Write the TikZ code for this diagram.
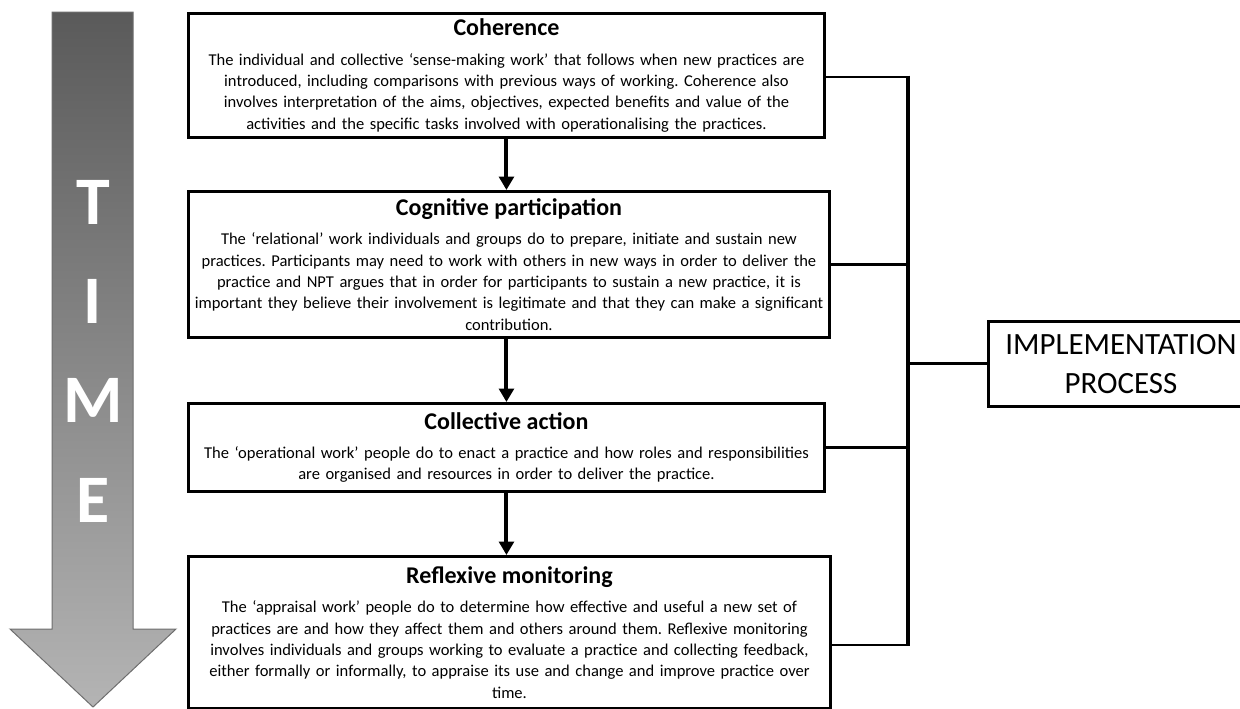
\documentclass[tikz,border=0pt]{standalone}
\usepackage{fontspec}
\setmainfont{Carlito}
\usetikzlibrary{arrows.meta}
\frenchspacing
\definecolor{timetop}{RGB}{90,90,90}
\definecolor{timebot}{RGB}{180,180,180}
\definecolor{timeedge}{RGB}{110,110,110}
\tikzset{
  stagebox/.style={draw, line width=2.2pt, inner ysep=0pt, inner xsep=-4pt, anchor=north west, align=center,
    font=\fontsize{12.4}{16}\selectfont\frenchspacing},
  flowarrow/.style={line width=3pt, -{Triangle[width=11pt,length=10pt]}},
  linkline/.style={line width=2.2pt},
  bracketline/.style={line width=3.6pt},
  timeletter/.style={text=white, font=\fontsize{51}{51}\selectfont\bfseries, inner sep=0pt}
}
\newcommand{\stagetitle}[1]{{\fontsize{18}{18}\selectfont\bfseries #1}\\[6pt]}
\begin{document}
\begin{tikzpicture}[x=0.75pt,y=-0.75pt]
\useasboundingbox (0,0) rectangle (1240,708);
% time arrow
\shade[top color=timetop, bottom color=timebot, draw=timeedge, line width=0.75pt]
  (52,12) -- (133,12) -- (133,629) -- (176,629) -- (93,707) -- (10,629) -- (52,629) -- cycle;
\node[timeletter] (tT) at (93,202) {T};
\node[timeletter] (tI) at (93,301) {I};
\node[timeletter] (tM) at (93,400) {M};
\node[timeletter] (tE) at (93,500) {E};
% stage boxes
\node[stagebox, minimum width=477pt, minimum height=93pt, text width=485pt] (coh) at (187,12)
{\stagetitle{Coherence}%
The individual and collective `sense-making work' that follows when new practices are\\
introduced, including comparisons with previous ways of working. Coherence also\\
involves interpretation of the aims, objectives, expected benefits and value of the\\
activities and the specific tasks involved with operationalising the practices.};
\node[stagebox, minimum width=480.75pt, minimum height=109.5pt, text width=488.75pt] (cog) at (187,190)
{\stagetitle{Cognitive participation}%
The `relational' work individuals and groups do to prepare, initiate and sustain new\\
practices. Participants may need to work with others in new ways in order to deliver the\\
practice and NPT argues that in order for participants to sustain a new practice, it is\\
important they believe their involvement is legitimate and that they can make a significant\\
contribution.};
\node[stagebox, minimum width=477pt, minimum height=66pt, text width=485pt] (col) at (187,402)
{\stagetitle{Collective action}%
The `operational work' people do to enact a practice and how roles and responsibilities\\
are organised and resources in order to deliver the practice.};
\node[stagebox, minimum width=481.5pt, minimum height=114pt, text width=489.5pt] (ref) at (187,555)
{\stagetitle{Reflexive monitoring}%
The `appraisal work' people do to determine how effective and useful a new set of\\
practices are and how they affect them and others around them. Reflexive monitoring\\
involves individuals and groups working to evaluate a practice and collecting feedback,\\
either formally or informally, to appraise its use and change and improve practice over\\
time.};
% implementation box (its right side runs past the picture's edge)
\node[draw, line width=2pt, inner sep=0pt, anchor=north west, align=center,
  minimum width=199pt, minimum height=63.75pt,
  font=\fontsize{23.2}{29}\selectfont] (imp) at (987,320) {IMPLEMENTATION\\PROCESS};
% flow arrows
\draw[flowarrow] (coh.south) -- (coh.south |- cog.north);
\draw[flowarrow] (coh.south |- cog.south) -- (coh.south |- col.north);
\draw[flowarrow] (col.south) -- (col.south |- ref.north);
% bracket
\coordinate (bt) at (908,77);
\coordinate (bb) at (908,645);
\draw[bracketline] ([yshift=1.1pt]bt) -- ([yshift=-1.1pt]bb);
\draw[linkline] (coh.east |- bt) -- ([xshift=1.8pt]bt);
\draw[linkline] (cog.east) -- (cog.east -| bt);
\draw[linkline] (col.east) -- (col.east -| bt);
\draw[linkline] (ref.east |- bb) -- ([xshift=1.8pt]bb);
\draw[linkline] (imp.west) -- (imp.west -| bt);
\end{tikzpicture}
\end{document}
